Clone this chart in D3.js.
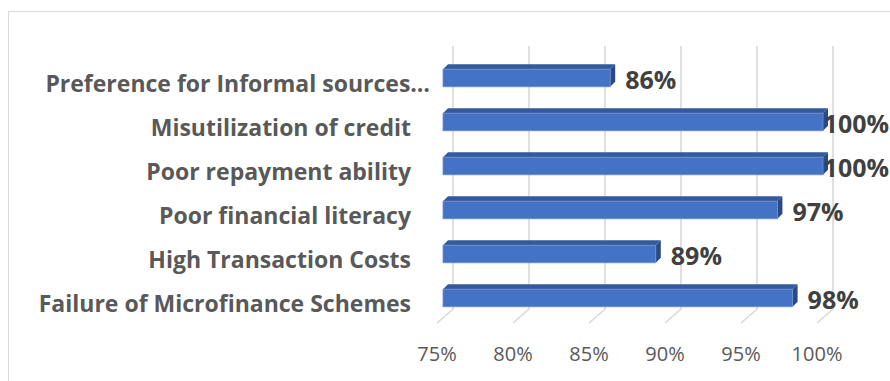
<!DOCTYPE html>
<html>
<head>
<meta charset="utf-8">
<script src="https://cdn.jsdelivr.net/npm/d3@7"></script>
<style>
  html, body { margin: 0; padding: 0; background: #fff; }
  svg { display: block; }
  text { font-variant-ligatures: none; }
</style>
</head>
<body>
<script>
// Reasons for low uptake of microfinance credit (share of respondents)
const categories = [
  "Preference for Informal sources…",
  "Misutilization of credit",
  "Poor repayment ability",
  "Poor financial literacy",
  "High Transaction Costs",
  "Failure of Microfinance Schemes"
];
const values = [86, 100, 100, 97, 89, 98];
const tickValues = [75, 80, 85, 90, 95, 100];
const tickLabels = ["75%", "80%", "85%", "90%", "95%", "100%"];

const W = 890, H = 381;
const depth = 5;          // bar extrusion (3-D look)
const backShift = 10;     // back wall offset from bar front plane
const floorShift = -6;    // front floor edge offset
const FONT = "'Open Sans', Lato, sans-serif";

const svg = d3.select("body").append("svg")
  .attr("width", W).attr("height", H);

// chart area frame
svg.append("rect")
  .attr("x", 8.5).attr("y", 11.5)
  .attr("width", W + 20).attr("height", H + 20)
  .attr("fill", "#fff").attr("stroke", "#d9d9d9").attr("stroke-width", 1);

const x = d3.scaleLinear().domain([75, 100]).range([443, 823]);
const y = d3.scaleBand().domain(categories)
  .range([56, 320]).paddingInner(0.6).paddingOuter(0.3);

const wallTop = 46, wallBottom = 309, floorFront = 323;

// gridlines on the back wall plus the floor edges
const grid = svg.append("g");
tickValues.forEach(t => {
  const xb = x(t) + backShift;
  const xf = x(t) + floorShift;
  grid.append("path")
    .attr("d", `M${xb},${wallTop}L${xb},${wallBottom}L${xf},${floorFront}`)
    .attr("fill", "none").attr("stroke", "#d9d9d9").attr("stroke-width", 1.6)
    .attr("stroke-linejoin", "round");
});

// value axis tick labels
svg.append("g").selectAll("text").data(tickValues).join("text")
  .attr("x", d => x(d) + floorShift)
  .attr("y", 353)
  .attr("text-anchor", "middle")
  .attr("dominant-baseline", "central")
  .attr("font-family", FONT)
  .attr("font-size", 20)
  .attr("fill", "#595959")
  .text((d, i) => tickLabels[i]);

// bars
const bars = svg.append("g");
categories.forEach((c, i) => {
  const x0 = x(75), x1 = x(values[i]);
  const y0 = y(c), h = y.bandwidth();
  const g = bars.append("g");
  // top face
  g.append("path")
    .attr("d", `M${x0},${y0}L${x0 + depth},${y0 - depth}L${x1 + depth},${y0 - depth}L${x1},${y0}Z`)
    .attr("fill", "#345a9e");
  // end face
  g.append("path")
    .attr("d", `M${x1},${y0}L${x1 + depth},${y0 - depth}L${x1 + depth},${y0 + h - depth}L${x1},${y0 + h}Z`)
    .attr("fill", "#2a4a85");
  // front face
  g.append("rect")
    .attr("x", x0).attr("y", y0)
    .attr("width", x1 - x0).attr("height", h)
    .attr("fill", "#4472c4")
    .attr("stroke", "#6f90d2").attr("stroke-width", 0.8);
});

// category labels
svg.append("g").selectAll("text").data(categories).join("text")
  .attr("x", d => d.endsWith("…") ? 430 : 411)
  .attr("y", d => y(d) + y.bandwidth() / 2 + 5)
  .attr("text-anchor", "end")
  .attr("dominant-baseline", "central")
  .attr("font-family", FONT)
  .attr("font-weight", "bold")
  .attr("font-size", 23)
  .attr("fill", "#595959")
  .text(d => d);

// data labels: sit just past the bar end, pulled back if they would run off the edge
svg.append("g").selectAll("text").data(categories).join("text")
  .attr("x", (d, i) => x(values[i]) + depth + 10)
  .attr("y", d => y(d) + y.bandwidth() / 2 + 1)
  .attr("dominant-baseline", "central")
  .attr("font-family", FONT)
  .attr("font-weight", "bold")
  .attr("font-size", 25)
  .attr("fill", "#404040")
  .text((d, i) => values[i] + "%")
  .each(function () {
    const tx = +this.getAttribute("x");
    const w = this.getComputedTextLength();
    if (tx + w > W - 1) this.setAttribute("x", W - 1 - w);
  });
</script>
</body>
</html>
